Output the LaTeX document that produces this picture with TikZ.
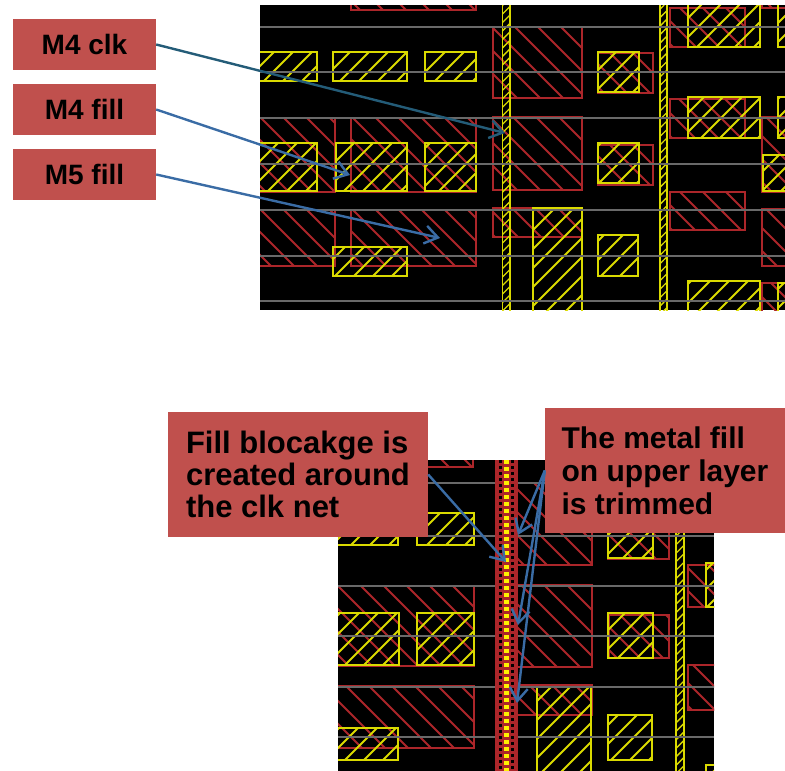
\documentclass[tikz,border=0pt]{standalone}
\usepackage{fontspec}
\setmainfont{Liberation Sans}
\usetikzlibrary{patterns.meta}
\usetikzlibrary{arrows.meta}
\definecolor{tagred}{RGB}{192,80,77}
\definecolor{netred}{RGB}{172,38,42}
\definecolor{netyel}{RGB}{218,218,0}
\definecolor{gridgray}{RGB}{105,105,105}
\definecolor{arrowblue}{RGB}{58,108,165}
\definecolor{arrowteal}{RGB}{36,92,120}
\tikzset{
  m5line/.style={draw=netred,line width=1.8pt},
  m4line/.style={draw=netyel,line width=1.8pt},
  clknet/.style={draw=netyel,line width=1.8pt,pattern={Lines[angle=45,distance=6pt,line width=1.3pt]},pattern color=netyel},
  gridline/.style={draw=gridgray,line width=2pt},
  tag/.style={fill=tagred,text=black,inner sep=0pt},
  fillarrow/.style={-{Straight Barb[length=13pt,width=18pt]},arrowblue,line width=2.4pt}
}
\newcommand{\mfive}[4]{
  \begin{scope}
  \clip (#1,#2) rectangle (#3,#4);
  \foreach \cc in {-800,-777,...,800} \draw[m5line] (\cc,0) -- (\cc+800,800);
  \end{scope}
  \draw[m5line] (#1,#2) rectangle (#3,#4);
}
\newcommand{\mfour}[4]{
  \begin{scope}
  \clip (#1,#2) rectangle (#3,#4);
  \foreach \cc in {250,269,...,1600} \draw[m4line] (\cc,0) -- (\cc-800,800);
  \end{scope}
  \draw[m4line] (#1,#2) rectangle (#3,#4);
}
\begin{document}
\begin{tikzpicture}[x=1pt,y=-1pt]
\useasboundingbox (0,0) rectangle (785,771);

% upper layout
\begin{scope}
\clip (260,5) rectangle (785,310);
\fill (260,5) rectangle (785,310);
\mfive{351}{-10}{476}{10}
\mfive{250}{118}{335}{192}
\mfive{351}{118}{476}{192}
\mfive{250}{210}{335}{266}
\mfive{351}{210}{476}{266}
\mfive{493}{27}{582}{98}
\mfive{493}{117}{582}{190}
\mfive{493}{208}{582}{237}
\mfive{598}{53}{653}{93}
\mfive{598}{145}{653}{185}
\mfive{670}{8}{745}{47}
\mfive{670}{99}{745}{138}
\mfive{670}{192}{745}{230}
\mfive{762}{-5}{800}{8}
\mfive{762}{117}{800}{192}
\mfive{762}{209}{800}{266}
\mfive{762}{283}{800}{320}
\mfour{250}{52}{317}{81}
\mfour{333}{52}{407}{81}
\mfour{425}{52}{476}{81}
\mfour{250}{143}{317}{191}
\mfour{336}{143}{407}{191}
\mfour{425}{143}{476}{191}
\mfour{333}{247}{407}{276}
\mfour{533}{208}{582}{320}
\mfour{598}{52}{639}{92}
\mfour{598}{143}{639}{183}
\mfour{598}{235}{638}{276}
\mfour{688}{-5}{760}{47}
\mfour{688}{97}{760}{138}
\mfour{688}{281}{760}{320}
\mfour{778}{-5}{800}{47}
\mfour{778}{97}{800}{138}
\mfour{763}{155}{800}{191}
\mfour{778}{283}{800}{320}
\draw[clknet] (502.5,-5) rectangle (510,320);
\draw[clknet] (660,-5) rectangle (667,320);
\foreach \yy in {27,72,118,164,210,256,301}
  \draw[gridline] (260,\yy) -- (785,\yy);
\end{scope}

% lower layout
\begin{scope}
\clip (338,460) rectangle (714,771);
\fill (338,460) rectangle (714,771);
\mfive{383}{450}{473}{467}
\mfive{325}{586}{474}{666}
\mfive{325}{686}{474}{748}
\mfive{510}{483}{592}{565}
\mfive{510}{585}{592}{667}
\mfive{510}{685}{592}{715}
\mfive{608}{515}{669}{559}
\mfive{609}{615}{669}{658}
\mfive{688}{565}{725}{607}
\mfive{688}{665}{725}{710}
\mfour{325}{513}{398}{545}
\mfour{417}{513}{474}{545}
\mfour{325}{613}{399}{665}
\mfour{417}{613}{474}{665}
\mfour{325}{728}{398}{760}
\mfour{537}{687}{591}{785}
\mfour{608}{515}{653}{558}
\mfour{608}{613}{653}{658}
\mfour{608}{715}{652}{760}
\mfour{706}{563}{725}{607}
\mfour{706}{765}{725}{785}
\draw[clknet] (676,450) rectangle (684,785);
\foreach \yy in {483,536,586,636,687,737}
  \draw[gridline] (338,\yy) -- (714,\yy);
% blockage round the clk net
\fill[netred] (495,460) rectangle (518,771);
\draw[black,line width=3.5pt,dash pattern=on 2.5pt off 3.5pt] (500.5,460) -- (500.5,771);
\draw[black,line width=3.5pt,dash pattern=on 2.5pt off 3.5pt] (512.5,460) -- (512.5,771);
\draw[yellow,line width=5pt,dash pattern=on 4pt off 3pt] (506.5,460) -- (506.5,771);
\end{scope}

\node (m4clk) at (84.5,44.5) [tag,minimum width=143pt,minimum height=51pt,font=\bfseries\fontsize{28}{32}\selectfont] {M4 clk};
\node (m4fill) at (84.5,109.5) [tag,minimum width=143pt,minimum height=51pt,font=\bfseries\fontsize{28}{32}\selectfont] {M4 fill};
\node (m5fill) at (84.5,174.5) [tag,minimum width=143pt,minimum height=51pt,font=\bfseries\fontsize{28}{32}\selectfont] {M5 fill};
\node (blockage) at (298,474.5) [tag,minimum width=260pt,minimum height=125pt,align=left,font=\bfseries\fontsize{31}{32}\selectfont] {Fill blocakge is\\created around\\the clk net};
\node (trimmed) at (665,470.5) [tag,minimum width=240pt,minimum height=125pt,align=left,font=\bfseries\fontsize{30}{33}\selectfont] {The metal fill\\on upper layer\\is trimmed};

\coordinate (clktip) at (505,133);
\coordinate (m4tip) at (350,175);
\coordinate (m5tip) at (440,238);
\coordinate (blocktip) at (506,562);
\coordinate (trimtipa) at (518,535);
\coordinate (trimtipb) at (518,625);
\coordinate (trimtipc) at (517,703);

\draw[fillarrow,arrowteal] (m4clk.east) -- (clktip);
\draw[fillarrow] (m4fill.east) -- (m4tip);
\draw[fillarrow] (m5fill.east) -- (m5tip);
\draw[fillarrow] (blockage.east) -- (blocktip);
\draw[fillarrow] (trimmed.west) -- (trimtipa);
\draw[fillarrow] (trimmed.west) -- (trimtipb);
\draw[fillarrow] (trimmed.west) -- (trimtipc);
\end{tikzpicture}
\end{document}
